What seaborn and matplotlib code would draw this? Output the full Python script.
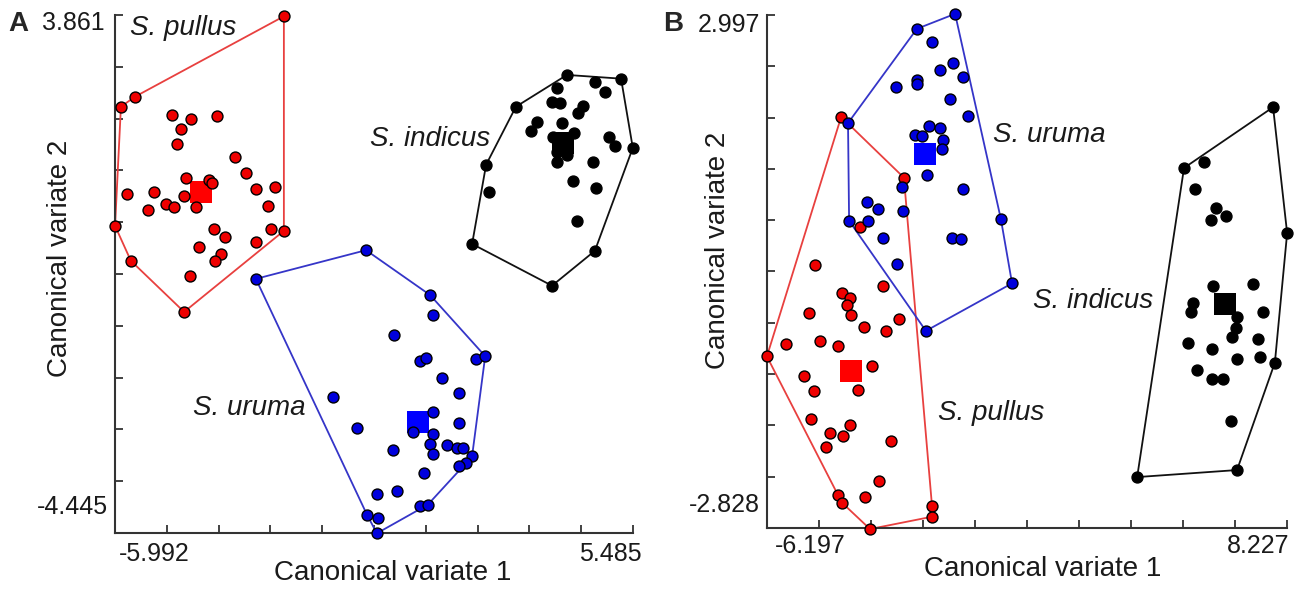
import numpy as np
import matplotlib
matplotlib.use("Agg")
import matplotlib.pyplot as plt
import seaborn as sns

# ---- panel A: canonical variate scores (x = CV1, y = CV2) ----
A_XLIM = (-5.992, 5.485)
A_YLIM = (-4.445, 3.861)

A_PULLUS = [(-2.25, 3.84), (-5.55, 2.55), (-5.86, 2.39), (-4.73, 2.26), (-4.31, 2.19),
            (-3.73, 2.24), (-4.53, 2.03), (-4.62, 1.79), (-3.33, 1.58), (-3.09, 1.33),
            (-4.42, 1.25), (-3.91, 1.22), (-3.84, 1.17), (-5.73, 0.99), (-5.13, 1.02),
            (-4.46, 0.96), (-2.87, 1.07), (-2.45, 1.10), (-5.26, 0.74), (-4.86, 0.83),
            (-4.69, 0.78), (-4.20, 0.78), (-2.60, 0.80), (-5.99, 0.48), (-3.80, 0.43),
            (-3.55, 0.30), (-2.54, 0.43), (-2.25, 0.40), (-4.13, 0.14), (-2.87, 0.22),
            (-3.64, 0.03), (-3.78, -0.08), (-5.64, -0.08), (-4.33, -0.32), (-4.46, -0.90)]
A_URUMA = [(-2.87, -0.37), (-0.43, 0.09), (0.99, -0.63), (1.06, -0.95), (0.19, -1.27),
           (0.77, -1.69), (0.90, -1.64), (2.01, -1.65), (2.21, -1.61), (1.25, -1.96),
           (1.63, -2.20), (-1.16, -2.26), (1.06, -2.50), (1.63, -2.68), (-0.63, -2.76),
           (0.61, -2.82), (1.06, -2.86), (0.99, -3.02), (1.06, -3.18), (1.37, -3.03),
           (1.59, -3.08), (1.72, -3.08), (1.92, -3.21), (1.79, -3.32), (1.63, -3.37),
           (0.17, -3.11), (0.86, -3.48), (-0.19, -3.82), (0.26, -3.77), (0.77, -4.01),
           (0.94, -3.99), (-0.41, -4.15), (-0.16, -4.20), (-0.19, -4.45)]
A_INDICUS = [(4.02, 2.90), (4.64, 2.79), (5.22, 2.84), (4.87, 2.63), (3.80, 2.69),
             (3.69, 2.47), (3.87, 2.45), (2.89, 2.39), (4.38, 2.40), (4.27, 2.29),
             (3.36, 2.15), (3.23, 2.00), (3.91, 2.13), (3.71, 1.91), (4.18, 1.97),
             (4.96, 1.91), (5.09, 1.76), (5.48, 1.73), (3.80, 1.67), (4.02, 1.62),
             (3.80, 1.50), (4.60, 1.50), (2.23, 1.46), (4.16, 1.20), (4.67, 1.09),
             (2.30, 1.02), (4.25, 0.56), (1.92, 0.19), (4.64, 0.08), (3.69, -0.48)]
A_CENTROIDS = {"pullus": (-4.09, 1.02), "uruma": (0.72, -2.66), "indicus": (3.94, 1.81)}
A_NAMES = {"pullus": (-5.66, 3.65), "uruma": (-4.26, -2.44), "indicus": (-0.34, 1.87)}

# ---- panel B ----
B_XLIM = (-6.197, 8.227)
B_YLIM = (-2.828, 2.997)

B_PULLUS = [(-4.14, 1.84), (-2.40, 1.15), (-3.62, 0.59), (-4.87, 0.16), (-2.98, -0.08),
            (-4.12, -0.16), (-3.90, -0.22), (-3.98, -0.30), (-5.03, -0.39), (-3.87, -0.41),
            (-2.54, -0.46), (-3.51, -0.55), (-2.90, -0.59), (-5.67, -0.74), (-4.73, -0.71),
            (-4.23, -0.76), (-6.20, -0.88), (-3.28, -0.99), (-5.17, -1.10), (-4.89, -1.27),
            (-3.67, -1.26), (-4.98, -1.59), (-3.90, -1.66), (-4.45, -1.75), (-4.09, -1.78),
            (-4.56, -1.91), (-2.76, -1.84), (-3.09, -2.29), (-4.23, -2.45), (-4.12, -2.54),
            (-3.48, -2.48), (-1.62, -2.58), (-1.62, -2.70), (-3.34, -2.84)]
B_URUMA = [(-0.98, 3.01), (-2.04, 2.84), (-1.62, 2.69), (-1.04, 2.45), (-1.40, 2.37),
           (-0.76, 2.29), (-2.04, 2.26), (-2.04, 2.21), (-2.62, 2.18), (-1.12, 2.04),
           (-0.62, 1.85), (-3.95, 1.77), (-1.70, 1.74), (-1.40, 1.71), (-2.09, 1.63),
           (-1.90, 1.62), (-1.32, 1.58), (-1.34, 1.48), (-1.76, 1.18), (-2.45, 1.04),
           (-0.76, 1.02), (-3.42, 0.87), (-3.12, 0.79), (-2.43, 0.77), (-3.92, 0.66),
           (-3.40, 0.66), (-2.98, 0.47), (-1.07, 0.47), (-0.82, 0.45), (-2.59, 0.17),
           (0.29, 0.68), (0.60, -0.05), (-1.79, -0.59)]
B_INDICUS = [(7.84, 1.95), (5.37, 1.26), (5.93, 1.33), (5.68, 1.02), (6.26, 0.81),
             (6.53, 0.71), (6.12, 0.67), (8.23, 0.52), (6.17, -0.08), (7.28, -0.06),
             (5.62, -0.27), (5.56, -0.38), (6.84, -0.43), (7.56, -0.38), (6.81, -0.56),
             (6.70, -0.66), (5.48, -0.73), (6.15, -0.80), (7.42, -0.68), (7.48, -0.89),
             (6.84, -0.91), (7.89, -0.95), (5.73, -1.03), (6.15, -1.14), (6.45, -1.14),
             (6.67, -1.61), (6.84, -2.17), (4.07, -2.25)]
B_CENTROIDS = {"pullus": (-3.87, -1.05), "uruma": (-1.81, 1.42), "indicus": (6.51, -0.28)}
B_NAMES = {"pullus": (-1.45, -1.52), "uruma": (0.07, 1.63), "indicus": (1.18, -0.25)}

FACE = {"pullus": "#ee0000", "uruma": "#0000dd", "indicus": "black"}
EDGE = {"pullus": "black", "uruma": "black", "indicus": "black"}
LINE = {"pullus": "#e8403f", "uruma": "#3535c8", "indicus": "#111111"}
SQUARE = {"pullus": "#ff0000", "uruma": "#0000ff", "indicus": "black"}


def convex_hull(pts):
    pts = sorted(set(map(tuple, pts)))

    def cross(o, a, b):
        return (a[0] - o[0]) * (b[1] - o[1]) - (a[1] - o[1]) * (b[0] - o[0])

    lower, upper = [], []
    for p in pts:
        while len(lower) >= 2 and cross(lower[-2], lower[-1], p) <= 0:
            lower.pop()
        lower.append(p)
    for p in reversed(pts):
        while len(upper) >= 2 and cross(upper[-2], upper[-1], p) <= 0:
            upper.pop()
        upper.append(p)
    h = lower[:-1] + upper[:-1]
    return np.array(h + [h[0]])


def draw_panel(ax, groups, centroids, names, xlim, ylim, ticktext, letter):
    for key, pts in groups.items():
        h = convex_hull(pts)
        ax.plot(h[:, 0], h[:, 1], color=LINE[key], lw=1.3, zorder=1, clip_on=False)
    for key, (cx, cy) in centroids.items():
        ax.scatter([cx], [cy], marker="s", s=250, color=SQUARE[key], lw=0, zorder=2, clip_on=False)
    for key, pts in groups.items():
        arr = np.array(pts)
        sns.scatterplot(x=arr[:, 0], y=arr[:, 1], ax=ax, s=62, color=FACE[key],
                        edgecolor=EDGE[key], linewidth=1.0, zorder=3, clip_on=False, legend=False)
    for key, (tx, ty) in names.items():
        ax.text(tx, ty, f"S. {key}", fontsize=20, style="italic", ha="left", va="center",
                color="#1a1a1a")

    ax.set_xlim(*xlim)
    ax.set_ylim(*ylim)
    ax.set_xticks(np.linspace(xlim[0], xlim[1], 11))
    ax.set_yticks(np.linspace(ylim[0], ylim[1], 11))
    ax.tick_params(bottom=True, left=True, direction="in", length=6, width=1.3,
                   color="#333333", labelbottom=False, labelleft=False)
    for side in ["top", "right"]:
        ax.spines[side].set_visible(False)
    for side in ["left", "bottom"]:
        ax.spines[side].set_color("#333333")
        ax.spines[side].set_linewidth(1.5)
    ax.set_xlabel("")
    ax.set_ylabel("")

    for (tx, ty, s, ha) in ticktext:
        ax.text(tx, ty, s, transform=ax.transAxes, fontsize=18, ha=ha, va="center",
                color="#1a1a1a")
    ax.text(letter[0], letter[1], letter[2], transform=ax.transAxes, fontsize=20,
            fontweight="bold", ha="center", va="center")


sns.set_theme(style="white")
plt.rcParams["font.family"] = ["Liberation Sans", "DejaVu Sans"]

fig = plt.figure(figsize=(13.02, 5.90), dpi=100)
axA = fig.add_axes([0.0883, 0.0966, 0.3979, 0.878])
axB = fig.add_axes([0.5891, 0.1051, 0.3994, 0.8695])

draw_panel(axA, {"pullus": A_PULLUS, "uruma": A_URUMA, "indicus": A_INDICUS},
           A_CENTROIDS, A_NAMES, A_XLIM, A_YLIM,
           [(-0.0193, 0.985, "3.861", "right"), (-0.0135, 0.050, "-4.445", "right"),
            (0.075, -0.040, "-5.992", "center"), (0.956, -0.040, "5.485", "center")],
           (-0.187, 0.983, "A"))
axA.text(0.537, -0.077, "Canonical variate 1", transform=axA.transAxes, fontsize=20,
         ha="center", va="center", color="#1a1a1a")
axA.text(-0.106, 0.531, "Canonical variate 2", transform=axA.transAxes, fontsize=20,
         ha="center", va="center", rotation=90, color="#1a1a1a")

draw_panel(axB, {"pullus": B_PULLUS, "uruma": B_URUMA, "indicus": B_INDICUS},
           B_CENTROIDS, B_NAMES, B_XLIM, B_YLIM,
           [(-0.0135, 0.981, "2.997", "right"), (-0.0135, 0.045, "-2.828", "right"),
            (0.083, -0.035, "-6.197", "center"), (0.944, -0.035, "8.227", "center")],
           (-0.181, 0.983, "B"))
axB.text(0.531, -0.080, "Canonical variate 1", transform=axB.transAxes, fontsize=20,
         ha="center", va="center", color="#1a1a1a")
axB.text(-0.094, 0.542, "Canonical variate 2", transform=axB.transAxes, fontsize=20,
         ha="center", va="center", rotation=90, color="#1a1a1a")

fig.savefig("out.png", dpi=100, facecolor="white")
